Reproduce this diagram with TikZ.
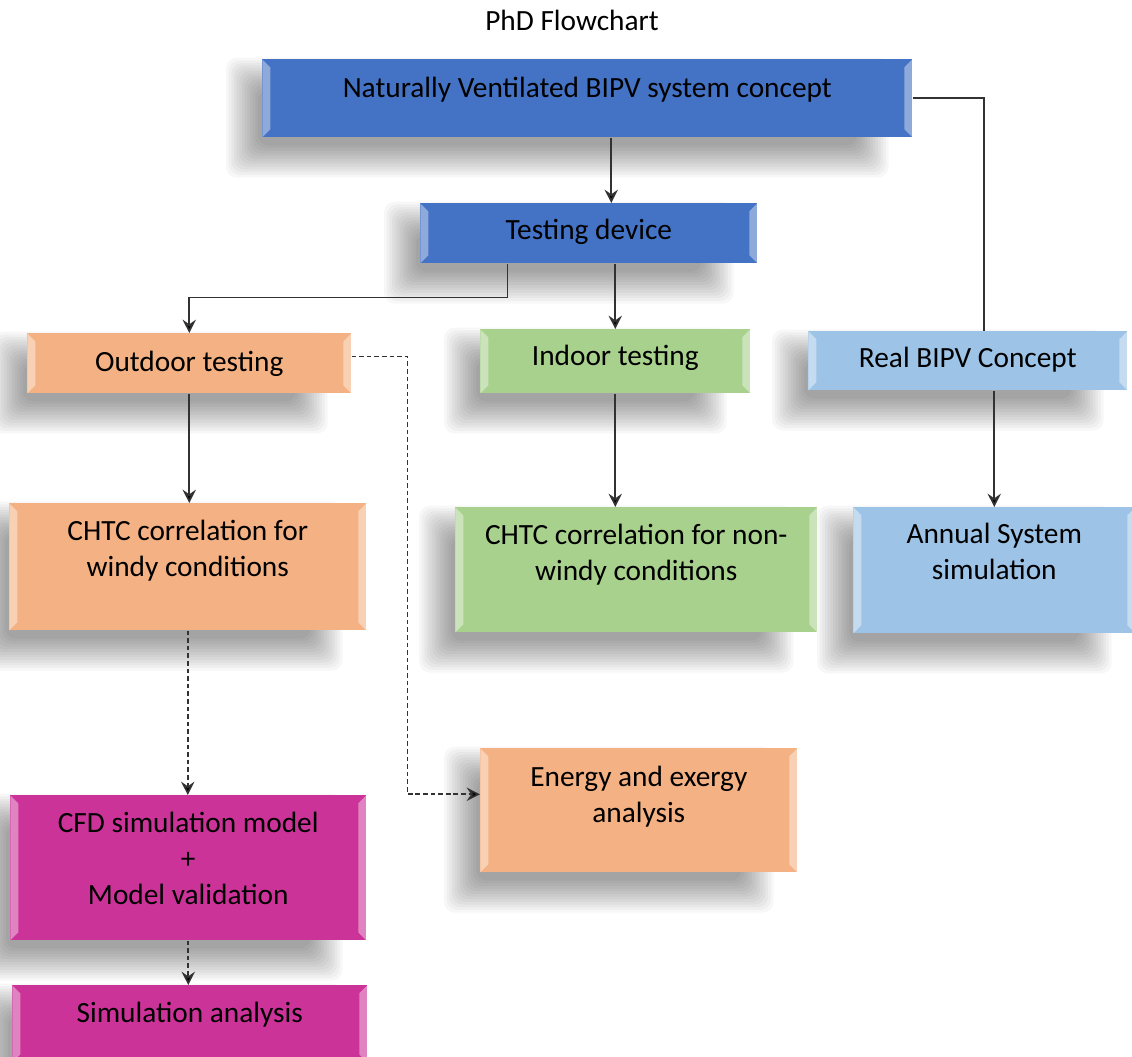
\documentclass[tikz,border=0pt]{standalone}
\usepackage{fontspec}
\setmainfont{Carlito}
\usepackage{tikz}
\usetikzlibrary{arrows.meta,backgrounds}
\definecolor{phdblue}{RGB}{68,114,196}
\definecolor{phdorange}{RGB}{244,177,131}
\definecolor{phdgreen}{RGB}{169,209,142}
\definecolor{phdsky}{RGB}{157,195,230}
\definecolor{phdmagenta}{RGB}{204,51,153}
\definecolor{phdline}{RGB}{50,50,50}

\begin{document}
\begin{tikzpicture}[
  x=0.75pt, y=-0.75pt,
  font=\fontsize{22pt}{27pt}\selectfont,
  bevel/.style={path picture={
      \fill[white, opacity=.4] (path picture bounding box.north west) -- ([shift={(6pt,-6pt)}]path picture bounding box.north west)
        -- ([shift={(6pt,6pt)}]path picture bounding box.south west) -- (path picture bounding box.south west) -- cycle;
      \fill[white, opacity=.4] (path picture bounding box.north east) -- ([shift={(-6pt,-6pt)}]path picture bounding box.north east)
        -- ([shift={(-6pt,6pt)}]path picture bounding box.south east) -- (path picture bounding box.south east) -- cycle;}},
  box/.style={anchor=north west, align=center, inner xsep=0pt, inner ysep=0pt, bevel},
  arr/.style={-{Stealth[length=10pt, width=10pt, inset=3.5pt, fill=black]}, line width=1.3pt, phdline},
  dsh/.style={arr, line width=1.2pt, dash pattern=on 3.5pt off 2.2pt},
  link/.style={line width=1.3pt, phdline}
]
\useasboundingbox (0,0) rectangle (1132,1057);
\node[anchor=base] (title) at (572,30) {PhD Flowchart};
% ---- top: concept and testing device ----
\node[box, fill=phdblue, minimum width=487.5pt, text height=28.5pt, text depth=30pt] (concept) at (262,59)
  {Naturally Ventilated BIPV system concept};
\node[box, fill=phdblue, minimum width=252.75pt, text height=27pt, text depth=18pt] (device) at (420,203)
  {Testing device};
% ---- middle row ----
\node[box, fill=phdorange, minimum width=243pt, text height=28.5pt, text depth=16.5pt] (outdoor) at (27,333)
  {Outdoor testing};
\node[box, fill=phdgreen, minimum width=202.5pt, text height=27pt, text depth=21pt] (indoor) at (480,329)
  {Indoor testing};
\node[box, fill=phdsky, minimum width=239.25pt, text height=27pt, text depth=17.25pt] (realbipv) at (808,331)
  {Real BIPV Concept};
% ---- correlations ----
\node[box, fill=phdorange, minimum width=267.75pt, text height=54.75pt, text depth=40.5pt] (windy) at (9,503)
  {CHTC correlation for\\windy conditions};
\node[box, fill=phdgreen, minimum width=271.5pt, text height=54.75pt, text depth=39pt] (nonwindy) at (455,507)
  {CHTC correlation for non-\\windy conditions};
\node[box, fill=phdsky, minimum width=211.5pt, text height=54pt, text depth=40.5pt] (annual) at (853,507)
  {Annual System\\simulation};
% ---- analysis ----
\node[box, fill=phdorange, minimum width=237.75pt, text height=55.5pt, text depth=37.5pt] (energy) at (480,748)
  {Energy and exergy\\analysis};
\node[box, fill=phdmagenta, minimum width=267pt, text height=81.75pt, text depth=27pt] (cfd) at (10,795)
  {CFD simulation model\\+\\Model validation};
\node[box, fill=phdmagenta, minimum width=266.25pt, text height=27.75pt, text depth=30pt] (simana) at (12,985)
  {Simulation analysis};
% ---- connectors ----
\draw[arr] ([xshift=18pt]concept.south) -- ([xshift=18pt]concept.south |- device.north);
\draw[link] (concept.east) -| ([xshift=12.4pt]realbipv.north);
\draw[arr] ([xshift=-61pt]device.south) -- ++(0,34) -| (outdoor.north);
\draw[arr] (device.south -| indoor.north) -- (indoor.north);
\draw[arr] (outdoor.south) -- (outdoor.south |- windy.north);
\draw[arr] (indoor.south) -- (indoor.south |- nonwindy.north);
\draw[arr] (annual.north |- realbipv.south) -- (annual.north);
\draw[dsh] (windy.south) -- (windy.south |- cfd.north);
\draw[dsh] (cfd.south) -- (cfd.south |- simana.north);
\draw[dsh] ([yshift=5pt]outdoor.east) -- ++(56,0) |- ([yshift=12pt]energy.west);
% ---- soft shadows behind the boxes ----
\begin{scope}[on background layer]
  \fill[white] (0,0) rectangle (1132,1057);
  \foreach \n in {concept,device,outdoor,indoor,realbipv,windy,nonwindy,annual,energy,cfd,simana}
    \foreach \k in {-6,...,6}
      \fill[black, opacity=.03, rounded corners=8pt]
        ([shift={(-15pt-\k*2pt,-18pt-\k*2pt)}]\n.south west) rectangle ([shift={(-30pt+\k*2pt,-11pt+\k*2pt)}]\n.north east);
\end{scope}
\end{tikzpicture}
\end{document}
